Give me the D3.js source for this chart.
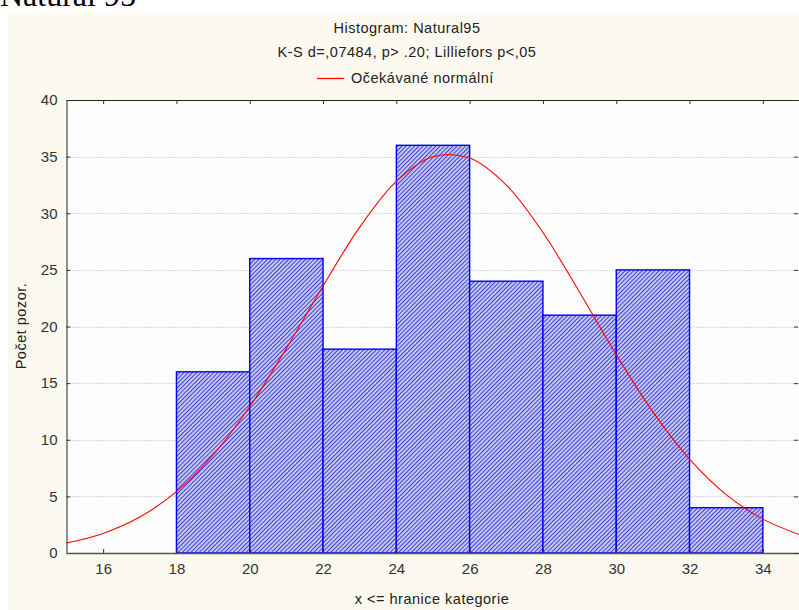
<!DOCTYPE html>
<html>
<head>
<meta charset="utf-8">
<script src="https://cdn.jsdelivr.net/npm/d3@7"></script>
<style>
  html, body { margin: 0; padding: 0; background: #ffffff; }
  svg { display: block; }
  text { font-family: "Liberation Sans", Arial, sans-serif; }
</style>
</head>
<body>
<svg id="chart" width="799" height="610"></svg>
<script>
// ---- data ----
const binLo = [18, 20, 22, 24, 26, 28, 30, 32];
const binHi = [20, 22, 24, 26, 28, 30, 32, 34];
const counts = [16, 26, 18, 36, 24, 21, 25, 4];

// expected normal curve
const curveX = [15, 16, 17, 18, 19, 20, 21, 22, 23, 24, 25, 26, 27, 28, 29, 30, 31, 32, 33, 34, 35];
const curveY = [0.88, 1.73, 3.17, 5.42, 8.66, 12.94, 18.07, 23.58, 28.77, 32.82, 34.99, 34.87, 32.49, 28.30, 23.03, 17.52, 12.46, 8.29, 5.15, 2.99, 1.62];

const xTicks = [16, 18, 20, 22, 24, 26, 28, 30, 32, 34];
const yTicks = [0, 5, 10, 15, 20, 25, 30, 35, 40];

const pageTitle = "Natural 95";
const title1 = "Histogram: Natural95";
const title2 = "K-S d=,07484, p> .20; Lilliefors p<,05";
const legendLabel = "Očekávané normální";
const xTitle = "x <= hranice kategorie";
const yTitle = "Počet pozor.";

// ---- layout ----
const svg = d3.select("#chart");
const L = 66.5, R = 799.5, T = 100, B = 553;
const x = d3.scaleLinear().domain([15, 35]).range([L, R]);
const y = d3.scaleLinear().domain([0, 40]).range([B, T]);

// page heading (cut off at top, as in the source)
svg.append("text").attr("x", 0).attr("y", 6)
  .style("font-family", "'Liberation Serif', 'Times New Roman', serif")
  .style("font-size", "32px").attr("fill", "#000").text(pageTitle);

// cream panel
svg.append("rect").attr("x", 8).attr("y", 12).attr("width", 799 - 8).attr("height", 610 - 12)
  .attr("fill", "#fcfaf0");

// plot background
svg.append("rect").attr("x", L).attr("y", T).attr("width", R - L).attr("height", B - T)
  .attr("fill", "#fdfdfd");

// hatch pattern ("////" direction)
const defs = svg.append("defs");
const pat = defs.append("pattern").attr("id", "hatch")
  .attr("patternUnits", "userSpaceOnUse").attr("width", 3).attr("height", 3)
  .attr("patternTransform", "rotate(45)");
pat.append("rect").attr("width", 3).attr("height", 3).attr("fill", "#c4c6f4");
pat.append("line").attr("x1", 0).attr("y1", 0).attr("x2", 0).attr("y2", 3)
  .attr("stroke", "#2020c8").attr("stroke-width", 1.6);

// grid lines
svg.append("g").selectAll("line").data(yTicks.filter(d => d > 0 && d < 40)).join("line")
  .attr("x1", L).attr("x2", R).attr("y1", d => Math.round(y(d)) + 0.5).attr("y2", d => Math.round(y(d)) + 0.5)
  .attr("stroke", "#b8b8b8").attr("stroke-width", 1).attr("stroke-dasharray", "1,2");

// bars
svg.append("g").selectAll("rect").data(counts).join("rect")
  .attr("x", (d, i) => x(binLo[i]))
  .attr("y", d => y(d))
  .attr("width", (d, i) => x(binHi[i]) - x(binLo[i]))
  .attr("height", d => y(0) - y(d))
  .attr("fill", "url(#hatch)")
  .attr("stroke", "#0000ff").attr("stroke-width", 1.4);

// normal curve
const line = d3.line().x(d => x(d[0])).y(d => y(d[1])).curve(d3.curveCatmullRom.alpha(0.5));
svg.append("path").datum(curveX.map((v, i) => [v, curveY[i]]))
  .attr("d", line).attr("fill", "none").attr("stroke", "#ff0000").attr("stroke-width", 1.1);

// axes
const tickColor = "#333";
const axLeft = d3.axisLeft(y).tickValues(yTicks).tickSizeInner(-4).tickSizeOuter(0).tickPadding(9);
const gL = svg.append("g").attr("transform", `translate(${L},0)`).call(axLeft);
const axBottom = d3.axisBottom(x).tickValues(xTicks).tickSizeInner(-4).tickSizeOuter(0).tickPadding(10);
const gB = svg.append("g").attr("transform", `translate(0,${B})`).call(axBottom);
const axTop = d3.axisTop(x).tickValues(xTicks).tickSizeInner(-4).tickSizeOuter(0).tickFormat("");
const gT = svg.append("g").attr("transform", `translate(0,${T})`).call(axTop);
const axRight = d3.axisRight(y).tickValues(yTicks).tickSizeInner(-4).tickSizeOuter(0).tickFormat("");
const gR = svg.append("g").attr("transform", `translate(${798},0)`).call(axRight);

[gL, gB, gT, gR].forEach(g => {
  g.selectAll(".domain").attr("stroke", "#222");
  g.selectAll(".tick line").attr("stroke", "#333");
  g.selectAll(".tick text").attr("fill", tickColor)
    .style("font-size", "15px").style("font-family", "'Liberation Sans', Arial, sans-serif");
});
gB.select(".domain").attr("stroke", "#555").attr("stroke-width", 1.5);
gR.select(".domain").remove();

// titles
const cx = 407;
const tStyle = sel => sel.attr("fill", "#222").style("font-size", "14.5px").style("letter-spacing", "0.5px");
svg.append("text").attr("x", cx).attr("y", 33).attr("text-anchor", "middle").call(tStyle).text(title1);
svg.append("text").attr("x", cx).attr("y", 57).attr("text-anchor", "middle").call(tStyle).text(title2);

// legend
svg.append("line").attr("x1", 317).attr("x2", 344).attr("y1", 78.5).attr("y2", 78.5)
  .attr("stroke", "#ff0000").attr("stroke-width", 1.2);
svg.append("text").attr("x", 351).attr("y", 83).call(tStyle).text(legendLabel);

// axis titles
svg.append("text").attr("x", 432).attr("y", 604).attr("text-anchor", "middle").call(tStyle).text(xTitle);
svg.append("text").attr("transform", "translate(26,326) rotate(-90)").attr("text-anchor", "middle")
  .call(tStyle).text(yTitle);
</script>
</body>
</html>
